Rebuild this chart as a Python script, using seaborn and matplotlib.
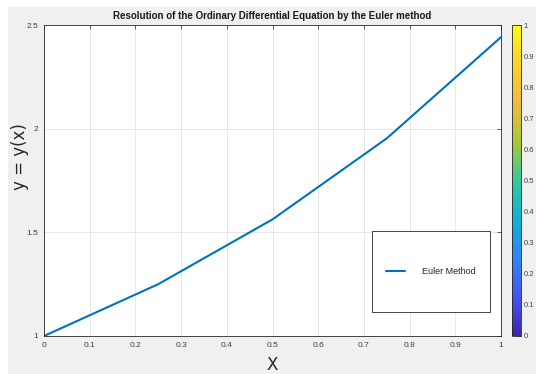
import numpy as np
import pandas as pd
import matplotlib
matplotlib.use("Agg")
import matplotlib.pyplot as plt
from matplotlib.colors import LinearSegmentedColormap, Normalize
from matplotlib.patches import Rectangle
import matplotlib.cm as cm
import seaborn as sns

# Euler solution of y' = y, y(0) = 1 with step 0.25
x_values = [0.0, 0.25, 0.5, 0.75, 1.0]
y_values = [1.0, 1.25, 1.5625, 1.953125, 2.44140625]
series_label = "Euler Method"
x_ticks = [0, 0.1, 0.2, 0.3, 0.4, 0.5, 0.6, 0.7, 0.8, 0.9, 1]
x_tick_labels = ["0", "0.1", "0.2", "0.3", "0.4", "0.5", "0.6", "0.7", "0.8", "0.9", "1"]
y_ticks = [1, 1.5, 2, 2.5]
y_tick_labels = ["1", "1.5", "2", "2.5"]
cbar_ticks = [0, 0.1, 0.2, 0.3, 0.4, 0.5, 0.6, 0.7, 0.8, 0.9, 1]
cbar_tick_labels = ["0", "0.1", "0.2", "0.3", "0.4", "0.5", "0.6", "0.7", "0.8", "0.9", "1"]

sns.set_theme(style="white")
plt.rcParams["font.family"] = ["Liberation Sans Narrow", "Liberation Sans", "DejaVu Sans"]

df = pd.DataFrame({"x": x_values, "y": y_values})

fig = plt.figure(figsize=(5.36, 3.74), dpi=100)
fig.patch.set_facecolor("white")
# grey window background
fig.patches.append(Rectangle((8 / 536, 0), 1, (374 - 7) / 374, transform=fig.transFigure,
                             facecolor="#f0f0f0", edgecolor="none", zorder=-10))

ax = fig.add_axes([44 / 536, (374 - 336) / 374, 457 / 536, 311 / 374])
ax.set_facecolor("white")

sns.lineplot(data=df, x="x", y="y", ax=ax, color="#0072BD", linewidth=1.5,
             label=series_label, legend=True)

ax.set_xlim(0, 1)
ax.set_ylim(1, 2.5)
ax.set_xticks(x_ticks)
ax.set_xticklabels(x_tick_labels)
ax.set_yticks(y_ticks)
ax.set_yticklabels(y_tick_labels)
ax.grid(True, color="#e3e3e3", linewidth=0.6)
ax.tick_params(axis="both", which="both", direction="in", length=3, width=0.5,
               colors="#262626", labelsize=6, top=True, right=True,
               labelcolor="#404040", pad=4)
for sp in ax.spines.values():
    sp.set_color("#262626")
    sp.set_linewidth(0.6)

ax.set_title("Resolution of the Ordinary Differential Equation by the Euler method",
             fontsize=7, fontweight="bold", color="#1a1a1a", pad=4)
ax.set_xlabel("X", fontsize=12, family=["DejaVu Sans"], color="#262626")
ax.xaxis.set_label_coords(0.5, -(356 - 336) / 311)
ax.set_ylabel("y = y(x)", fontsize=12, family=["DejaVu Sans"], color="#262626")
ax.yaxis.set_label_coords(-(44 - 29) / 457, (336 - 157) / 311)

# legend box
x0 = (372 - 44) / 457
y0 = (336 - 312) / 311
w = (490 - 372) / 457
h = (312 - 231) / 311
ax.add_patch(Rectangle((x0, y0), w, h, transform=ax.transAxes, facecolor="white",
                       edgecolor="#262626", linewidth=0.6, zorder=5))
leg = ax.legend(loc="center", bbox_to_anchor=(x0 + w / 2, y0 + h / 2), frameon=False,
                fontsize=6.5, handlelength=2.1, handletextpad=1.9)
leg.set_zorder(6)

# colorbar with parula-like map
parula_pts = [
    (0.000, (0.2422, 0.1504, 0.6603)),
    (0.125, (0.2810, 0.3228, 0.9579)),
    (0.250, (0.1786, 0.5289, 0.9682)),
    (0.375, (0.0689, 0.6948, 0.8394)),
    (0.500, (0.2161, 0.7843, 0.5923)),
    (0.625, (0.6720, 0.7793, 0.2227)),
    (0.750, (0.9376, 0.7273, 0.2663)),
    (0.875, (0.9955, 0.8200, 0.1626)),
    (1.000, (0.9769, 0.9839, 0.0805)),
]
parula = LinearSegmentedColormap.from_list("parula_like", parula_pts)
cax = fig.add_axes([512 / 536, (374 - 336) / 374, 9 / 536, 311 / 374])
sm = cm.ScalarMappable(norm=Normalize(0, 1), cmap=parula)
cb = fig.colorbar(sm, cax=cax)
cb.set_ticks(cbar_ticks)
cb.set_ticklabels(cbar_tick_labels)
cb.outline.set_edgecolor("#262626")
cb.outline.set_linewidth(0.6)
cax.tick_params(labelsize=5.5, length=2, width=0.5, colors="#262626",
                labelcolor="#404040", direction="in", pad=2)

fig.savefig("out.png", dpi=100)
